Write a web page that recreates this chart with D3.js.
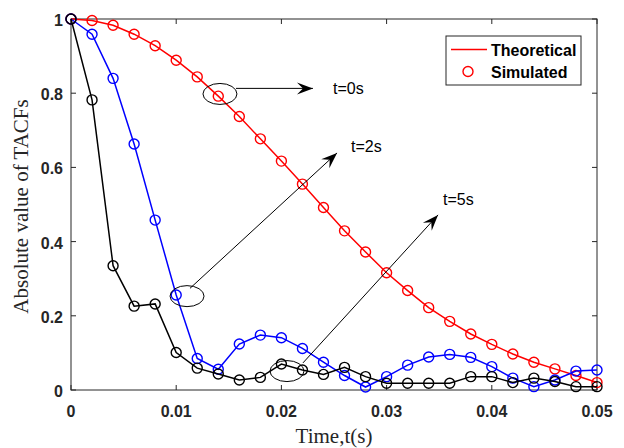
<!DOCTYPE html>
<html>
<head>
<meta charset="utf-8">
<script src="https://cdn.jsdelivr.net/npm/d3@7"></script>
<style>
  body { margin: 0; background: #fff; }
  svg { display: block; }
</style>
</head>
<body>
<script>
// time axis, one sample every 0.002 s
const times = d3.range(26).map(i => +(i * 0.002).toFixed(3));

// |TACF| at t = 0 s, 2 s, 5 s
const tacf0 = [1.0, 0.996, 0.983, 0.959, 0.928, 0.889, 0.844, 0.792, 0.737, 0.677,
               0.617, 0.555, 0.492, 0.429, 0.372, 0.316, 0.268, 0.222, 0.185, 0.151,
               0.123, 0.097, 0.075, 0.057, 0.039, 0.020];
const tacf2 = [1.0, 0.959, 0.840, 0.663, 0.458, 0.256, 0.085, 0.056, 0.124, 0.148,
               0.141, 0.112, 0.075, 0.039, 0.008, 0.036, 0.067, 0.089, 0.096, 0.088,
               0.063, 0.032, 0.009, 0.027, 0.051, 0.054];
const tacf5 = [1.0, 0.782, 0.335, 0.226, 0.232, 0.101, 0.059, 0.043, 0.027, 0.034,
               0.070, 0.054, 0.042, 0.061, 0.036, 0.018, 0.018, 0.018, 0.018, 0.036,
               0.036, 0.020, 0.032, 0.023, 0.009, 0.009];

const xTicks = [0, 0.01, 0.02, 0.03, 0.04, 0.05];
const xTickLabels = ["0", "0.01", "0.02", "0.03", "0.04", "0.05"];
const yTicks = [0, 0.2, 0.4, 0.6, 0.8, 1];
const yTickLabels = ["0", "0.2", "0.4", "0.6", "0.8", "1"];

const series = [
  { name: "t=0s", values: tacf0, color: "#ff0000" },
  { name: "t=2s", values: tacf2, color: "#0000ff" },
  { name: "t=5s", values: tacf5, color: "#000000" }
];

// callouts: ellipse centre, arrow start/end, label position (data units)
const callouts = [
  { label: "t=0s", cx: 0.01416, cy: 0.798, x1: 0.01568, y1: 0.813, x2: 0.0230, y2: 0.813, tx: 0.0249, ty: 0.798 },
  { label: "t=2s", cx: 0.01103, cy: 0.253, x1: 0.01131, y1: 0.274, x2: 0.02529, y2: 0.639, tx: 0.02662, ty: 0.642 },
  { label: "t=5s", cx: 0.02053, cy: 0.051, x1: 0.02205, y1: 0.073, x2: 0.03489, y2: 0.472, tx: 0.03536, ty: 0.499 }
];

const W = 624, H = 448;
const margin = { left: 71, right: 27, top: 19, bottom: 58 };
const axisColor = "#262626";

const svg = d3.select("body").append("svg")
    .attr("width", W)
    .attr("height", H);

const x = d3.scaleLinear().domain([0, 0.05]).range([margin.left, W - margin.right]);
const y = d3.scaleLinear().domain([0, 1]).range([H - margin.bottom, margin.top]);

const x0 = x.range()[0], x1 = x.range()[1];
const y0 = y.range()[0], y1 = y.range()[1];

// frame
svg.append("rect")
    .attr("x", x0).attr("y", y1)
    .attr("width", x1 - x0).attr("height", y0 - y1)
    .attr("fill", "none")
    .attr("stroke", axisColor)
    .attr("stroke-width", 1);

// inward ticks, mirrored on top / right
const tickLen = 5;
const tickG = svg.append("g").attr("stroke", axisColor).attr("stroke-width", 1);
xTicks.forEach(t => {
    tickG.append("line").attr("x1", x(t)).attr("x2", x(t)).attr("y1", y0).attr("y2", y0 - tickLen);
    tickG.append("line").attr("x1", x(t)).attr("x2", x(t)).attr("y1", y1).attr("y2", y1 + tickLen);
});
yTicks.forEach(t => {
    tickG.append("line").attr("x1", x0).attr("x2", x0 + tickLen).attr("y1", y(t)).attr("y2", y(t));
    tickG.append("line").attr("x1", x1).attr("x2", x1 - tickLen).attr("y1", y(t)).attr("y2", y(t));
});

const tickFont = "'Liberation Sans', Arial, sans-serif";
svg.append("g").selectAll("text")
    .data(xTicks)
    .join("text")
    .attr("x", d => x(d))
    .attr("y", y0 + 27)
    .attr("text-anchor", "middle")
    .attr("font-family", tickFont)
    .attr("font-weight", "bold")
    .attr("font-size", 16)
    .attr("fill", axisColor)
    .text((d, i) => xTickLabels[i]);

svg.append("g").selectAll("text")
    .data(yTicks)
    .join("text")
    .attr("x", x0 - 8)
    .attr("y", d => y(d) + 7)
    .attr("text-anchor", "end")
    .attr("font-family", tickFont)
    .attr("font-weight", "bold")
    .attr("font-size", 16)
    .attr("fill", axisColor)
    .text((d, i) => yTickLabels[i]);

// axis titles
const serif = "'Liberation Serif', 'Times New Roman', serif";
svg.append("text")
    .attr("x", (x0 + x1) / 2)
    .attr("y", 443)
    .attr("text-anchor", "middle")
    .attr("font-family", serif)
    .attr("font-size", 21)
    .attr("fill", axisColor)
    .text("Time,t(s)");

svg.append("text")
    .attr("transform", `translate(28, ${(y0 + y1) / 2 + 2}) rotate(-90)`)
    .attr("text-anchor", "middle")
    .attr("font-family", serif)
    .attr("font-size", 21)
    .attr("fill", axisColor)
    .text("Absolute value of TACFs");

// curves + markers
const line = d3.line()
    .x((d, i) => x(times[i]))
    .y(d => y(d));

series.forEach(s => {
    const g = svg.append("g");
    g.append("path")
        .attr("d", line(s.values))
        .attr("fill", "none")
        .attr("stroke", s.color)
        .attr("stroke-width", 1.5);
    g.selectAll("circle")
        .data(s.values)
        .join("circle")
        .attr("cx", (d, i) => x(times[i]))
        .attr("cy", d => y(d))
        .attr("r", 5)
        .attr("fill", "none")
        .attr("stroke", s.color)
        .attr("stroke-width", 1.4);
});

// callouts
function arrowHead(xa, ya, xb, yb) {
    const ang = Math.atan2(yb - ya, xb - xa);
    const L = 16, Wd = 6, notch = 10;
    const pts = [
        [0, 0],
        [-L, -Wd],
        [-notch, 0],
        [-L, Wd]
    ].map(([u, v]) => [xb + u * Math.cos(ang) - v * Math.sin(ang),
                       yb + u * Math.sin(ang) + v * Math.cos(ang)]);
    return "M" + pts.map(p => p.join(",")).join("L") + "Z";
}

const cg = svg.append("g");
callouts.forEach(c => {
    cg.append("ellipse")
        .attr("cx", x(c.cx)).attr("cy", y(c.cy))
        .attr("rx", 17).attr("ry", 10.5)
        .attr("fill", "none")
        .attr("stroke", "#000")
        .attr("stroke-width", 1);
    cg.append("line")
        .attr("x1", x(c.x1)).attr("y1", y(c.y1))
        .attr("x2", x(c.x2)).attr("y2", y(c.y2))
        .attr("stroke", "#000")
        .attr("stroke-width", 1);
    cg.append("path")
        .attr("d", arrowHead(x(c.x1), y(c.y1), x(c.x2), y(c.y2)))
        .attr("fill", "#000");
    cg.append("text")
        .attr("x", x(c.tx)).attr("y", y(c.ty))
        .attr("font-family", tickFont)
        .attr("font-size", 16)
        .attr("fill", "#000")
        .text(c.label);
});

// legend
const lg = svg.append("g").attr("transform", "translate(446, 36)");
lg.append("rect")
    .attr("width", 135).attr("height", 49)
    .attr("fill", "#fff")
    .attr("stroke", axisColor)
    .attr("stroke-width", 1);
lg.append("line")
    .attr("x1", 5).attr("x2", 41).attr("y1", 13.5).attr("y2", 13.5)
    .attr("stroke", "#ff0000").attr("stroke-width", 1.5);
lg.append("circle")
    .attr("cx", 22).attr("cy", 35.5).attr("r", 5)
    .attr("fill", "none").attr("stroke", "#ff0000").attr("stroke-width", 1.4);
lg.append("text")
    .attr("x", 45).attr("y", 19.5)
    .attr("font-family", tickFont).attr("font-weight", "bold").attr("font-size", 16)
    .attr("fill", "#000")
    .text("Theoretical");
lg.append("text")
    .attr("x", 45).attr("y", 42)
    .attr("font-family", tickFont).attr("font-weight", "bold").attr("font-size", 16)
    .attr("fill", "#000")
    .text("Simulated");
</script>
</body>
</html>
